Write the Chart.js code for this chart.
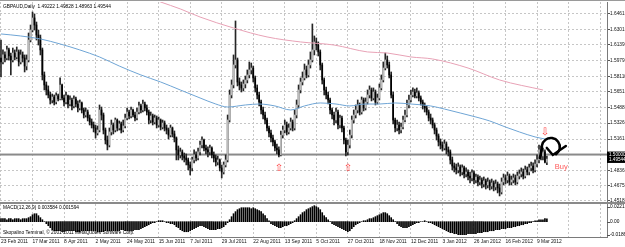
<!DOCTYPE html>
<html>
<head>
<meta charset="utf-8">
<script src="https://cdn.jsdelivr.net/npm/chart.js@4.4.1/dist/chart.umd.min.js"></script>
<style>
  html, body { margin: 0; padding: 0; background: #fff; overflow: hidden; }
  #wrap { position: relative; width: 625px; height: 247px; }
  #main { position: absolute; left: 0; top: 0; }
  #macd { position: absolute; left: 0; top: 202px; }
</style>
</head>
<body>
<div id="wrap">
  <canvas id="main" width="625" height="202"></canvas>
  <canvas id="macd" width="625" height="45"></canvas>
</div>
<script>
// GBPAUD daily bars (bar 0 = 23 Feb 2011)
const firstOpen = 1.6003
const closes = [
  1.5962,1.6035,1.6003,1.6087,1.6024,1.5983,1.6055,1.6014,1.6066,1.5962,
  1.6035,1.6003,1.5920,1.5983,1.6190,1.6294,1.6419,1.6346,1.6242,1.6211,
  1.6087,1.5827,1.5723,1.5671,1.5619,1.5567,1.5598,1.5546,1.5609,1.5577,
  1.5723,1.5588,1.5546,1.5609,1.5525,1.5567,1.5505,1.5577,1.5525,1.5484,
  1.5536,1.5463,1.5411,1.5442,1.5380,1.5338,1.5307,1.5276,1.5224,1.5255,
  1.5463,1.5411,1.5255,1.5151,1.5099,1.5235,1.5307,1.5255,1.5359,1.5276,
  1.5318,1.5255,1.5297,1.5380,1.5442,1.5401,1.5463,1.5411,1.5380,1.5442,
  1.5505,1.5463,1.5525,1.5484,1.5442,1.5359,1.5401,1.5338,1.5380,1.5307,
  1.5359,1.5286,1.5328,1.5276,1.5255,1.5203,1.5276,1.5214,1.5172,1.5048,
  1.4996,1.5027,1.4985,1.4964,1.4944,1.4892,1.4861,1.4944,1.4996,1.4964,
  1.5027,1.5099,1.5151,1.5068,1.5048,1.5027,1.5068,1.4996,1.4964,1.4923,
  1.4944,1.4861,1.4819,1.4892,1.4944,1.5359,1.5619,1.5723,1.5931,1.5983,
  1.5754,1.5723,1.5692,1.5733,1.5775,1.5827,1.5879,1.5899,1.5796,1.5692,
  1.5619,1.5546,1.5463,1.5411,1.5359,1.5276,1.5224,1.5172,1.5131,1.5068,
  1.5048,1.4996,1.5203,1.5255,1.5307,1.5235,1.5276,1.5338,1.5276,1.5411,
  1.5515,1.5671,1.5754,1.5796,1.5879,1.5827,1.5931,1.5983,1.6087,1.6170,
  1.6138,1.6066,1.5931,1.5775,1.5671,1.5619,1.5567,1.5463,1.5411,1.5359,
  1.5442,1.5307,1.5380,1.5276,1.5151,1.5027,1.5099,1.5203,1.5359,1.5411,
  1.5463,1.5515,1.5442,1.5567,1.5484,1.5546,1.5619,1.5671,1.5588,1.5650,
  1.5546,1.5588,1.5692,1.5775,1.5899,1.5983,1.5931,1.5827,1.5619,1.5359,
  1.5276,1.5307,1.5255,1.5286,1.5359,1.5411,1.5515,1.5567,1.5619,1.5650,
  1.5609,1.5640,1.5588,1.5546,1.5505,1.5484,1.5442,1.5380,1.5359,1.5307,
  1.5255,1.5193,1.5131,1.5099,1.5068,1.5110,1.5048,1.5027,1.4944,1.4881,
  1.4861,1.4840,1.4871,1.4819,1.4861,1.4798,1.4819,1.4777,1.4757,1.4809,
  1.4736,1.4767,1.4715,1.4736,1.4694,1.4726,1.4684,1.4715,1.4673,1.4705,
  1.4663,1.4694,1.4653,1.4611,1.4715,1.4757,1.4736,1.4777,1.4715,1.4736,
  1.4757,1.4715,1.4777,1.4798,1.4819,1.4777,1.4840,1.4819,1.4861,1.4881,
  1.4840,1.4902,1.4944,1.5048,1.4985,1.5027,1.4922,1.4954
]
const highs = [
  1.6190,1.6087,1.6066,1.6128,1.6107,1.6055,1.6107,1.6087,1.6118,1.6087,
  1.6087,1.6066,1.6035,1.6035,1.6263,1.6346,1.6481,1.6461,1.6377,1.6294,
  1.6242,1.6107,1.5858,1.5754,1.5713,1.5650,1.5629,1.5619,1.5640,1.5629,
  1.5796,1.5733,1.5619,1.5650,1.5619,1.5609,1.5588,1.5609,1.5598,1.5557,
  1.5567,1.5546,1.5484,1.5484,1.5463,1.5411,1.5370,1.5338,1.5307,1.5297,
  1.5515,1.5494,1.5432,1.5276,1.5193,1.5276,1.5359,1.5328,1.5380,1.5370,
  1.5349,1.5338,1.5359,1.5421,1.5484,1.5463,1.5494,1.5473,1.5442,1.5484,
  1.5546,1.5525,1.5567,1.5546,1.5515,1.5463,1.5442,1.5421,1.5411,1.5401,
  1.5390,1.5370,1.5359,1.5349,1.5307,1.5276,1.5307,1.5286,1.5245,1.5183,
  1.5089,1.5068,1.5048,1.5016,1.5006,1.4964,1.4923,1.4975,1.5048,1.5027,
  1.5068,1.5141,1.5183,1.5162,1.5099,1.5079,1.5099,1.5079,1.5027,1.4996,
  1.4985,1.4954,1.4892,1.4923,1.4996,1.5411,1.5671,1.5775,1.6035,1.6388,
  1.6003,1.5796,1.5754,1.5775,1.5816,1.5879,1.5962,1.5951,1.5920,1.5816,
  1.5723,1.5650,1.5567,1.5494,1.5442,1.5380,1.5297,1.5255,1.5203,1.5151,
  1.5110,1.5079,1.5245,1.5297,1.5359,1.5338,1.5318,1.5380,1.5359,1.5463,
  1.5567,1.5723,1.5796,1.5858,1.5941,1.5920,1.5983,1.6066,1.6357,1.6232,
  1.6211,1.6170,1.6087,1.5951,1.5796,1.5702,1.5650,1.5588,1.5484,1.5442,
  1.5484,1.5463,1.5411,1.5401,1.5297,1.5172,1.5151,1.5255,1.5401,1.5463,
  1.5515,1.5567,1.5536,1.5598,1.5588,1.5588,1.5671,1.5713,1.5692,1.5692,
  1.5671,1.5629,1.5733,1.5827,1.5962,1.6055,1.6024,1.5962,1.5858,1.5650,
  1.5380,1.5359,1.5338,1.5328,1.5401,1.5463,1.5567,1.5619,1.5671,1.5692,
  1.5681,1.5692,1.5661,1.5609,1.5567,1.5536,1.5505,1.5463,1.5421,1.5380,
  1.5328,1.5276,1.5214,1.5162,1.5131,1.5151,1.5131,1.5079,1.5048,1.4975,
  1.4913,1.4902,1.4913,1.4892,1.4892,1.4881,1.4861,1.4840,1.4819,1.4840,
  1.4830,1.4798,1.4788,1.4777,1.4757,1.4767,1.4746,1.4757,1.4736,1.4746,
  1.4726,1.4736,1.4715,1.4694,1.4757,1.4798,1.4788,1.4819,1.4798,1.4777,
  1.4798,1.4788,1.4819,1.4840,1.4861,1.4850,1.4881,1.4871,1.4902,1.4923,
  1.4913,1.4944,1.4996,1.5099,1.5089,1.5068,1.5048,1.4983
]
const lows = [
  1.5806,1.5941,1.5962,1.5983,1.5983,1.5827,1.5962,1.5983,1.5993,1.5920,
  1.5941,1.5962,1.5858,1.5879,1.5962,1.6170,1.6274,1.6294,1.6190,1.6138,
  1.6035,1.5775,1.5671,1.5619,1.5588,1.5525,1.5536,1.5515,1.5525,1.5557,
  1.5567,1.5567,1.5505,1.5525,1.5484,1.5505,1.5463,1.5484,1.5494,1.5442,
  1.5463,1.5432,1.5380,1.5390,1.5349,1.5307,1.5276,1.5235,1.5172,1.5203,
  1.5235,1.5359,1.5214,1.5110,1.5048,1.5079,1.5203,1.5214,1.5235,1.5245,
  1.5255,1.5224,1.5235,1.5276,1.5359,1.5370,1.5380,1.5390,1.5349,1.5359,
  1.5421,1.5432,1.5442,1.5453,1.5411,1.5318,1.5328,1.5307,1.5318,1.5276,
  1.5286,1.5255,1.5266,1.5245,1.5214,1.5162,1.5183,1.5183,1.5131,1.4944,
  1.4944,1.4964,1.4944,1.4923,1.4892,1.4840,1.4788,1.4830,1.4913,1.4933,
  1.4944,1.4996,1.5068,1.5037,1.5006,1.4975,1.4996,1.4964,1.4923,1.4881,
  1.4892,1.4830,1.4757,1.4798,1.4871,1.4923,1.5338,1.5588,1.5692,1.5899,
  1.5713,1.5671,1.5650,1.5661,1.5692,1.5744,1.5796,1.5837,1.5754,1.5650,
  1.5577,1.5505,1.5421,1.5370,1.5318,1.5245,1.5183,1.5131,1.5089,1.5037,
  1.5006,1.4975,1.4985,1.5172,1.5224,1.5203,1.5214,1.5255,1.5245,1.5255,
  1.5380,1.5484,1.5640,1.5723,1.5775,1.5796,1.5806,1.5899,1.5962,1.6035,
  1.6087,1.6024,1.5879,1.5733,1.5619,1.5577,1.5525,1.5421,1.5370,1.5307,
  1.5328,1.5266,1.5276,1.5235,1.5110,1.4985,1.4996,1.5068,1.5172,1.5328,
  1.5380,1.5432,1.5411,1.5421,1.5453,1.5463,1.5525,1.5588,1.5557,1.5567,
  1.5515,1.5525,1.5567,1.5671,1.5754,1.5879,1.5899,1.5796,1.5588,1.5318,
  1.5235,1.5245,1.5214,1.5224,1.5266,1.5338,1.5390,1.5484,1.5546,1.5598,
  1.5588,1.5588,1.5557,1.5515,1.5473,1.5442,1.5411,1.5349,1.5318,1.5276,
  1.5214,1.5151,1.5089,1.5058,1.5037,1.5048,1.5006,1.4985,1.4902,1.4840,
  1.4819,1.4798,1.4809,1.4777,1.4788,1.4757,1.4767,1.4736,1.4705,1.4726,
  1.4694,1.4705,1.4673,1.4684,1.4653,1.4663,1.4642,1.4653,1.4632,1.4642,
  1.4622,1.4632,1.4601,1.4570,1.4590,1.4684,1.4694,1.4705,1.4684,1.4684,
  1.4705,1.4684,1.4694,1.4746,1.4767,1.4746,1.4757,1.4788,1.4788,1.4830,
  1.4809,1.4819,1.4871,1.4913,1.4944,1.4944,1.4913,1.4896
]
// MACD(12,26,9) main line, drawn as histogram
const macdHist = [
  0.0037,0.0037,0.0037,0.0024,0.0037,0.0037,0.0024,0.0037,0.0037,0.0037,
  0.0024,0.0037,0.0037,0.0037,0.0049,0.0061,0.0085,0.0097,0.0097,0.0073,
  0.0049,0.0024,0,-0.0024,-0.0049,-0.0073,-0.0097,-0.0110,-0.0110,-0.0110,
  -0.0110,-0.0122,-0.0122,-0.0110,-0.0110,-0.0110,-0.0110,-0.0110,-0.0122,-0.0122,
  -0.0122,-0.0110,-0.0110,-0.0110,-0.0110,-0.0110,-0.0110,-0.0110,-0.0110,-0.0122,
  -0.0122,-0.0122,-0.0122,-0.0110,-0.0110,-0.0110,-0.0110,-0.0110,-0.0110,-0.0110,
  -0.0110,-0.0097,-0.0097,-0.0110,-0.0110,-0.0110,-0.0110,-0.0110,-0.0097,-0.0097,
  -0.0097,-0.0085,-0.0073,-0.0061,-0.0049,-0.0037,-0.0024,-0.0012,-0.0012,0,
  0.0012,0.0012,0.0012,0,-0.0012,-0.0012,-0.0024,-0.0024,-0.0037,-0.0061,
  -0.0073,-0.0097,-0.0110,-0.0122,-0.0122,-0.0122,-0.0110,-0.0097,-0.0085,-0.0073,
  -0.0061,-0.0049,-0.0049,-0.0061,-0.0073,-0.0085,-0.0097,-0.0097,-0.0097,-0.0097,
  -0.0085,-0.0085,-0.0073,-0.0061,-0.0037,-0.0012,0.0024,0.0061,0.0097,0.0122,
  0.0146,0.0158,0.0170,0.0170,0.0170,0.0170,0.0170,0.0158,0.0170,0.0158,
  0.0146,0.0134,0.0122,0.0097,0.0073,0.0037,0.0012,-0.0024,-0.0037,-0.0049,
  -0.0061,-0.0073,-0.0073,-0.0061,-0.0049,-0.0049,-0.0037,-0.0024,-0.0012,0.0012,
  0.0037,0.0061,0.0085,0.0110,0.0122,0.0146,0.0158,0.0170,0.0183,0.0195,
  0.0183,0.0170,0.0146,0.0110,0.0073,0.0049,0.0024,0,-0.0024,-0.0037,
  -0.0049,-0.0061,-0.0073,-0.0085,-0.0097,-0.0110,-0.0122,-0.0110,-0.0085,-0.0061,
  -0.0037,-0.0024,-0.0012,0,0.0012,0.0012,0.0024,0.0037,0.0037,0.0049,
  0.0061,0.0073,0.0085,0.0097,0.0110,0.0110,0.0097,0.0073,0.0049,0.0024,
  0,-0.0024,-0.0049,-0.0061,-0.0073,-0.0073,-0.0073,-0.0061,-0.0049,-0.0037,
  -0.0024,-0.0012,-0.0012,0,0,0.0012,0,-0.0012,-0.0012,-0.0024,
  -0.0037,-0.0049,-0.0061,-0.0073,-0.0085,-0.0097,-0.0110,-0.0122,-0.0134,-0.0134,
  -0.0146,-0.0146,-0.0158,-0.0158,-0.0158,-0.0158,-0.0158,-0.0146,-0.0146,-0.0146,
  -0.0146,-0.0146,-0.0134,-0.0134,-0.0134,-0.0122,-0.0122,-0.0122,-0.0110,-0.0110,
  -0.0110,-0.0097,-0.0097,-0.0097,-0.0085,-0.0085,-0.0085,-0.0073,-0.0073,-0.0073,
  -0.0061,-0.0061,-0.0049,-0.0049,-0.0037,-0.0037,-0.0024,-0.0024,-0.0012,-0.0012,
  0,0.0012,0.0012,0.0024,0.0024,0.0024,0.0037,0.0036
]
// moving averages, sampled along the curves (bar index, price)
const maBlueBars = [0,10,20,30,40,50,60,71,81,91,101,109,115,124,131,139,147,154,162,170,177,185,192,200,208,218,225,233,241,248,256,263,271,276]
const maBlue = [1.6253,1.6232,1.6201,1.6149,1.6087,1.6014,1.5920,1.5827,1.5754,1.5671,1.5588,1.5525,1.5494,1.5515,1.5525,1.5505,1.5463,1.5505,1.5536,1.5525,1.5505,1.5525,1.5525,1.5536,1.5525,1.5505,1.5473,1.5432,1.5390,1.5349,1.5286,1.5235,1.5183,1.5162]
const maPinkBars = [70,81,91,101,118,135,152,169,186,196,208,219,237,253,275]
const maPink = [1.6668,1.6585,1.6513,1.6429,1.6315,1.6222,1.6170,1.6138,1.6066,1.6055,1.6014,1.5993,1.5899,1.5775,1.5671]

const priceTicks = [1.64610,1.63010,1.61390,1.59790,1.58110,1.56510,1.54880,1.53260,1.51610,1.48360,1.46750,1.45180]
const dateLabels = ['23 Feb 2011','17 Mar 2011','8 Apr 2011','2 May 2011','24 May 2011','15 Jun 2011','7 Jul 2011','29 Jul 2011','22 Aug 2011','13 Sep 2011','5 Oct 2011','27 Oct 2011','18 Nov 2011','12 Dec 2011','3 Jan 2012','26 Jan 2012','16 Feb 2012','9 Mar 2012']
const gridBars = [0,16,32,48,64,80,96,112,128,144,160,176,192,208,224,240,256,272,288,304]
const levelPrice = 1.5
const bidPrice = 1.49544
const upArrowBars = [141, 176]
const upArrowPrices = [1.4861, 1.4861]
const downArrowBars = [276]
const downArrowPrices = [1.5235]

const opens = closes.map((c, i) => i == 0 ? firstOpen : closes[i - 1])
const FONT = '"Liberation Sans", Arial, sans-serif'
const gridColor = '#c6c6c6'
const axisColor = '#7a7a7a'

Chart.defaults.font.family = FONT

// main price window
const mainDecor = {
  id: 'mainDecor',
  beforeDatasetsDraw(chart) {
    const {ctx, chartArea, scales: {y}} = chart
    const ly = y.getPixelForValue(levelPrice)
    ctx.save()
    ctx.fillStyle = '#8a8a8a'
    ctx.fillRect(chartArea.left, ly - 1, chartArea.right - chartArea.left, 2)
    ctx.restore()
  },
  afterDatasetsDraw(chart) {
    const {ctx, scales: {x, y}} = chart
    ctx.save()
    ctx.fillStyle = '#ff3b3b'
    ctx.font = '10px "DejaVu Sans"'
    ctx.textAlign = 'center'
    ctx.textBaseline = 'middle'
    upArrowBars.forEach((b, i) => ctx.fillText('\u21e7', x.getPixelForValue(b), y.getPixelForValue(upArrowPrices[i])))
    downArrowBars.forEach((b, i) => ctx.fillText('\u21e9', x.getPixelForValue(b), y.getPixelForValue(downArrowPrices[i])))

    ctx.fillStyle = '#ff5a5a'
    ctx.font = '7.5px ' + FONT
    ctx.textAlign = 'left'
    ctx.fillText('Buy', x.getPixelForValue(281), y.getPixelForValue(1.4871))

    // hand drawn turn arrow
    const cx = x.getPixelForValue(279), cy = y.getPixelForValue(1.5079)
    ctx.strokeStyle = '#000'
    ctx.lineWidth = 2.5
    ctx.lineCap = 'round'
    ctx.beginPath()
    ctx.moveTo(cx - 11, cy + 11)
    ctx.lineTo(cx - 9, cy + 2)
    ctx.arc(cx, cy, 9, Math.PI * 1.05, Math.PI * 2.3)
    ctx.stroke()
    ctx.beginPath()
    ctx.moveTo(cx - 4, cy + 1)
    ctx.lineTo(cx + 2, cy + 8)
    ctx.lineTo(cx + 15, cy - 1)
    ctx.stroke()
    ctx.restore()
  },
  afterDraw(chart) {
    const {ctx, chartArea, scales: {y}} = chart
    ctx.save()
    ctx.fillStyle = '#9a9a9a'
    ctx.fillRect(0, 0, 625, 1)
    ctx.fillStyle = '#000'
    ctx.font = '4.8px ' + FONT
    ctx.textBaseline = 'middle'
    ctx.fillText('GBPAUD,Daily  1.49222 1.49828 1.48963 1.49544', 3, 7)
    // price boxes on the axis
    const ly = y.getPixelForValue(levelPrice), by = y.getPixelForValue(bidPrice)
    ctx.fillStyle = '#000'
    ctx.fillRect(chartArea.right, ly - 3, 18, by - ly + 7)
    ctx.fillStyle = '#fff'
    ctx.font = '4.6px ' + FONT
    ctx.fillText('1.50000', chartArea.right + 2, ly)
    ctx.fillText('1.49544', chartArea.right + 2, by + 1)
    ctx.restore()
  }
}

new Chart(document.getElementById('main'), {
  type: 'bar',
  data: {
    datasets: [
      {
        type: 'line', data: maPinkBars.map((b, i) => ({x: b, y: maPink[i]})),
        borderColor: '#e8a2b6', borderWidth: 1, pointRadius: 0, cubicInterpolationMode: 'monotone', order: 1
      },
      {
        type: 'line', data: maBlueBars.map((b, i) => ({x: b, y: maBlue[i]})),
        borderColor: '#6fa5d5', borderWidth: 1, pointRadius: 0, cubicInterpolationMode: 'monotone', order: 1
      },
      {
        data: closes.map((c, i) => ({x: i, y: [lows[i], highs[i]]})),
        backgroundColor: '#262626', barThickness: 1, grouped: false, order: 3
      },
      {
        data: closes.map((c, i) => ({x: i, y: [opens[i], c]})),
        backgroundColor: (ctx) => {
          const i = ctx.dataIndex
          if (i === undefined) return '#000'
          return closes[i] >= opens[i] ? '#bcbcbc' : '#000'
        },
        barThickness: 1, grouped: false, order: 2
      }
    ]
  },
  options: {
    responsive: false,
    animation: false,
    events: [],
    layout: {padding: {top: 2, left: 0, right: 0, bottom: 0}, autoPadding: false},
    plugins: {legend: {display: false}, tooltip: {enabled: false}},
    scales: {
      x: {
        type: 'linear', min: -0.5, max: 307.5, offset: false,
        afterBuildTicks: (s) => { s.ticks = gridBars.map(v => ({value: v})) },
        afterFit: (s) => { s.height = 0; s.paddingLeft = 0; s.paddingRight = 0 },
        ticks: {display: false},
        grid: {color: gridColor, drawTicks: false, offset: false},
        border: {display: false, dash: [2, 2]}
      },
      y: {
        position: 'right', min: 1.4507, max: 1.6585,
        afterBuildTicks: (s) => { s.ticks = priceTicks.map(v => ({value: v})) },
        afterFit: (s) => { s.width = 18; s.paddingTop = 0; s.paddingBottom = 0 },
        ticks: {callback: (v) => v.toFixed(5), font: {size: 4.8}, color: '#111', padding: 0},
        grid: {color: gridColor, tickLength: 3, tickColor: '#555', tickBorderDash: []},
        border: {color: axisColor, dash: [2, 2]}
      }
    }
  },
  plugins: [mainDecor]
})

// MACD sub window
const macdTop = 0.02212
const macdBottom = -0.01866
const macdDecor = {
  id: 'macdDecor',
  afterDraw(chart) {
    const {ctx, chartArea, scales: {y}} = chart
    ctx.save()
    ctx.fillStyle = '#8a8a8a'
    ctx.fillRect(0, 0, 625, 2)
    ctx.fillStyle = '#000'
    ctx.font = '4.8px ' + FONT
    ctx.textBaseline = 'middle'
    ctx.fillText('MACD(12,26,9) 0.003584 0.001594', 3, chartArea.top + 4)
    ctx.fillText('Skopalino Terminal, \u00a9 2001-2011 MetaQuotes Software Corp.', 3, chartArea.bottom - 4)
    const z = y.getPixelForValue(0)
    const rows = [[macdTop.toFixed(6), chartArea.top + 3], ['0.00', z], [macdBottom.toFixed(6), chartArea.bottom - 2]]
    ctx.strokeStyle = '#555'
    ctx.lineWidth = 1
    rows.forEach(([t, ty]) => {
      ctx.beginPath()
      ctx.moveTo(chartArea.right, Math.round(ty) + 0.5)
      ctx.lineTo(chartArea.right + 3, Math.round(ty) + 0.5)
      ctx.stroke()
      ctx.fillText(t, chartArea.right + 3, ty)
    })
    ctx.restore()
  }
}

new Chart(document.getElementById('macd'), {
  type: 'bar',
  data: {
    datasets: [{
      data: macdHist.map((v, i) => ({x: i, y: v})),
      backgroundColor: '#000', barThickness: 1
    }]
  },
  options: {
    responsive: false,
    animation: false,
    events: [],
    layout: {padding: {top: 2, left: 0, right: 0, bottom: 0}, autoPadding: false},
    plugins: {legend: {display: false}, tooltip: {enabled: false}},
    scales: {
      x: {
        type: 'linear', min: -0.5, max: 307.5, offset: false,
        afterBuildTicks: (s) => { s.ticks = gridBars.map(v => ({value: v})) },
        afterFit: (s) => { s.height = 10; s.paddingLeft = 0; s.paddingRight = 0 },
        ticks: {callback: (v, i) => dateLabels[i] || '', align: 'start', font: {size: 4.9}, color: '#111', padding: 2, maxRotation: 0, autoSkip: false},
        grid: {color: gridColor, drawTicks: false, offset: false},
        border: {color: axisColor, dash: [2, 2]}
      },
      y: {
        position: 'right', min: -0.0186, max: 0.0215,
        afterFit: (s) => { s.width = 18; s.paddingTop = 0; s.paddingBottom = 0 },
        ticks: {display: false},
        grid: {display: false},
        border: {color: axisColor}
      }
    }
  },
  plugins: [macdDecor]
})
</script>
</body>
</html>
